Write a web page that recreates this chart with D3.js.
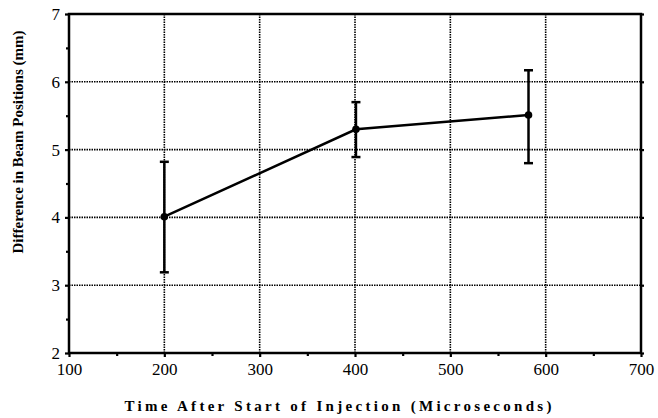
<!DOCTYPE html>
<html><head><meta charset="utf-8">
<script src="https://cdn.jsdelivr.net/npm/d3@7"></script>
<style>body{margin:0;background:#fff}svg{display:block}</style>
</head><body>
<svg id="c" width="658" height="418"></svg>
<script>
const times = [200, 401, 582];
const means = [4.01, 5.30, 5.51];
const upper = [4.82, 5.70, 6.17];
const lower = [3.19, 4.89, 4.80];
const xTicks = [100, 200, 300, 400, 500, 600, 700];
const yTicks = [2, 3, 4, 5, 6, 7];
const xMinor = [150, 250, 350, 450, 550, 650];
const yMinor = [2.5, 3.5, 4.5, 5.5, 6.5];
const xTitle = "Time After Start of Injection (Microseconds)";
const yTitle = "Difference in Beam Positions (mm)";

const svg = d3.select("#c");
const L = 69, R = 641, T = 14, B = 353;
const x = d3.scaleLinear().domain([100, 700]).range([L, R]);
const y = d3.scaleLinear().domain([2, 7]).range([B, T]);
const font = "'Liberation Serif', 'Times New Roman', serif";

// grid
const g = svg.append("g");
g.selectAll(".gx").data(xTicks.slice(1, -1)).join("line")
  .attr("x1", d => x(d)).attr("x2", d => x(d)).attr("y1", T).attr("y2", B)
  .attr("stroke", "#000").attr("stroke-width", 1.6).attr("stroke-dasharray", "1.5,1");
g.selectAll(".gy").data(yTicks.slice(1, -1)).join("line")
  .attr("y1", d => y(d)).attr("y2", d => y(d)).attr("x1", L).attr("x2", R)
  .attr("stroke", "#000").attr("stroke-width", 1.6).attr("stroke-dasharray", "1.5,1");

// frame
svg.append("rect").attr("x", L).attr("y", T).attr("width", R - L).attr("height", B - T)
  .attr("fill", "none").attr("stroke", "#000").attr("stroke-width", 2.5);

// axes via d3
const xAxis = svg.append("g").attr("transform", `translate(0,${B})`)
  .call(d3.axisBottom(x).tickValues(xTicks).tickSize(4).tickPadding(6).tickFormat(d3.format("d")));
const xMin = svg.append("g").attr("transform", `translate(0,${B})`)
  .call(d3.axisBottom(x).tickValues(xMinor).tickSize(3).tickFormat(""));
const yAxis = svg.append("g").attr("transform", `translate(${L},0)`)
  .call(d3.axisLeft(y).tickValues(yTicks).tickSize(4).tickPadding(5).tickFormat(d3.format("d")));
const yMin = svg.append("g").attr("transform", `translate(${L},0)`)
  .call(d3.axisLeft(y).tickValues(yMinor).tickSize(3).tickFormat(""));
const yRight = svg.append("g").attr("transform", `translate(${R},0)`)
  .call(d3.axisRight(y).tickValues(yTicks).tickSize(3).tickFormat(""));
[xAxis, xMin, yAxis, yMin, yRight].forEach(a => {
  a.select(".domain").remove();
  a.attr("font-size", null).attr("font-family", null);
  a.selectAll("line").attr("stroke", "#000").attr("stroke-width", 2.2);
  a.selectAll("text").attr("fill", "#000").attr("font-family", font).attr("font-size", 17);
});

// error bars
const eb = svg.append("g");
times.forEach((t, i) => {
  eb.append("line").attr("x1", x(t)).attr("x2", x(t)).attr("y1", y(upper[i])).attr("y2", y(lower[i]))
    .attr("stroke", "#000").attr("stroke-width", 2.5);
  [upper[i], lower[i]].forEach(v => eb.append("line")
    .attr("x1", x(t) - 4.5).attr("x2", x(t) + 4.5).attr("y1", y(v)).attr("y2", y(v))
    .attr("stroke", "#000").attr("stroke-width", 2.5));
});

// line
svg.append("path").datum(times.map((t, i) => [t, means[i]]))
  .attr("d", d3.line().x(d => x(d[0])).y(d => y(d[1])))
  .attr("fill", "none").attr("stroke", "#000").attr("stroke-width", 2.5);
svg.selectAll(".pt").data(times).join("circle")
  .attr("cx", d => x(d)).attr("cy", (d, i) => y(means[i])).attr("r", 3.8).attr("fill", "#000");

// titles
svg.append("text").attr("x", 338).attr("y", 411).attr("text-anchor", "middle")
  .attr("textLength", 427).attr("lengthAdjust", "spacing")
  .attr("font-family", font).attr("font-weight", "bold").attr("font-size", 15)
  .text(xTitle);
svg.append("text").attr("transform", "translate(23,142) rotate(-90)").attr("text-anchor", "middle")
  .attr("textLength", 223).attr("lengthAdjust", "spacing")
  .attr("font-family", font).attr("font-weight", "bold").attr("font-size", 15)
  .text(yTitle);
</script>
</body></html>
